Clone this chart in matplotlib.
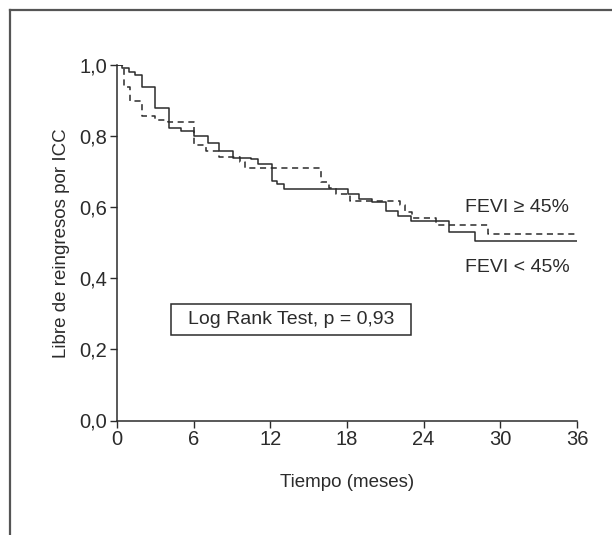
import matplotlib
matplotlib.use("Agg")
import matplotlib.pyplot as plt
from matplotlib.lines import Line2D
from matplotlib.patches import Rectangle

plt.rcParams['font.family'] = ['Liberation Sans', 'DejaVu Sans']

# Kaplan-Meier steps
t_low = [0, 0.4, 0.9, 1.4, 1.96, 3.0, 4.1, 5.03, 6.0, 7.12, 8.0, 9.05, 10.5, 11.06,
         12.1, 12.55, 13.1, 18.05, 18.96, 19.93, 21.03, 21.96, 23.0, 26.0, 28.0, 36]
s_low = [1.0, 0.992, 0.980, 0.973, 0.937, 0.879, 0.823, 0.813, 0.799, 0.78, 0.759, 0.738,
         0.735, 0.721, 0.675, 0.664, 0.651, 0.637, 0.622, 0.615, 0.589, 0.575, 0.562,
         0.529, 0.506, 0.506]

t_high = [0, 0.52, 1.04, 1.96, 2.95, 4.0, 6.0, 6.99, 8.0, 9.6, 10.04, 15.96, 16.56,
          17.14, 18.23, 22.14, 22.5, 23.05, 25.0, 29.05, 36]
s_high = [1.0, 0.938, 0.90, 0.857, 0.845, 0.840, 0.774, 0.757, 0.741, 0.726, 0.710,
          0.672, 0.653, 0.636, 0.618, 0.606, 0.587, 0.569, 0.55, 0.525, 0.525]

x_ticks = [0, 6, 12, 18, 24, 30, 36]
y_ticks = [0.0, 0.2, 0.4, 0.6, 0.8, 1.0]
y_labels = ['0,0', '0,2', '0,4', '0,6', '0,8', '1,0']

W, H = 612, 535
fig = plt.figure(figsize=(W / 100, H / 100), dpi=100)
ax = fig.add_axes([117 / W, 1 - 420.5 / H, 460 / W, 355.5 / H])

ink = '#2b2b2b'
ax.plot(t_low, s_low, drawstyle='steps-post', color=ink, lw=1.1)
ax.plot(t_high, s_high, drawstyle='steps-post', color=ink, lw=1.1, dashes=(4, 3))

ax.set_xlim(0, 36)
ax.set_ylim(0, 1.0)
ax.set_xticks(x_ticks)
ax.set_yticks(y_ticks)
ax.set_yticklabels(y_labels)
ax.tick_params(direction='out', length=5, width=1, colors=ink, labelsize=14.5, pad=2)
for side in ['top', 'right']:
    ax.spines[side].set_visible(False)
for side in ['left', 'bottom']:
    ax.spines[side].set_color(ink)
    ax.spines[side].set_linewidth(1.1)

ax.set_ylabel('Libre de reingresos por ICC', fontsize=13.5, color=ink, labelpad=7)
ax.set_xlabel('Tiempo (meses)', fontsize=13.5, color=ink, labelpad=18)

ax.text(35.4, 0.60, 'FEVI ≥ 45%', fontsize=14, color=ink, ha='right', va='center')
ax.text(35.4, 0.43, 'FEVI < 45%', fontsize=14, color=ink, ha='right', va='center')

# Log-rank annotation box
ax.add_patch(Rectangle((4.23, 0.2405), 18.77, 0.0872, fill=False, ec=ink, lw=1.1,
                       clip_on=False))
ax.text(13.6, 0.284, 'Log Rank Test, p = 0,93', fontsize=14, color=ink,
        ha='center', va='center')

# outer frame (top and left edges only)
fig.add_artist(Line2D([10 / W, 1], [1 - 10 / H, 1 - 10 / H], color='#555555', lw=1.6,
                      transform=fig.transFigure))
fig.add_artist(Line2D([10 / W, 10 / W], [0, 1 - 10 / H], color='#555555', lw=1.6,
                      transform=fig.transFigure))

fig.savefig('out.png', dpi=100)
